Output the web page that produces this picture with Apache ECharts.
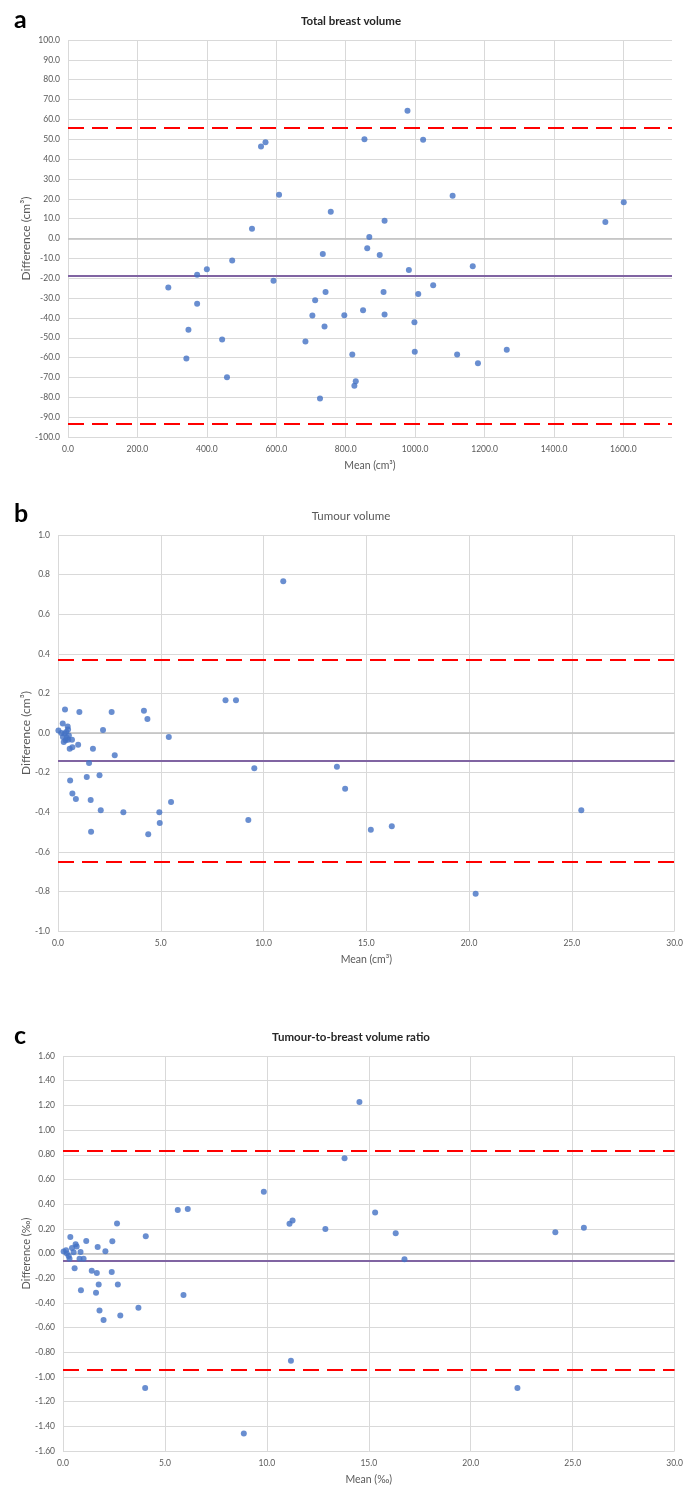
<!DOCTYPE html>
<html><head><meta charset="utf-8">
<script src="https://cdn.jsdelivr.net/npm/echarts@6/dist/echarts.min.js"></script>
<style>html,body{margin:0;padding:0;background:#fff}#c{width:686px;height:1486px}</style>
</head><body><div id="c"></div>
<script>
// Panel a: Total breast volume
const meansA = [289, 341, 347, 372, 372, 400, 444, 458, 473, 530, 556, 569, 592, 608, 684, 704, 712, 726, 734, 739, 742, 757, 796, 819, 825, 829, 850, 854, 862, 868, 898, 909, 912, 912, 978, 982, 998, 999, 1009, 1023, 1052, 1108, 1121, 1166, 1181, 1264, 1548, 1601];
const diffsA = [-24.7, -60.5, -46.0, -18.2, -32.9, -15.5, -50.9, -69.9, -11.1, 4.9, 46.3, 48.5, -21.3, 22.1, -51.9, -38.8, -31.1, -80.6, -7.8, -44.3, -27.0, 13.5, -38.7, -58.5, -74.2, -71.9, -36.2, 50.0, -4.9, 0.7, -8.3, -26.9, 9.0, -38.3, 64.4, -15.9, -42.2, -57.0, -28.0, 49.8, -23.5, 21.5, -58.5, -14.0, -62.9, -56.0, 8.3, 18.2];
const limitsA = [56.0, -18.8, -93.4]; // upper LoA, mean, lower LoA

// Panel b: Tumour volume
const meansB = [0.02, 0.16, 0.23, 0.24, 0.28, 0.32, 0.34, 0.37, 0.40, 0.43, 0.47, 0.49, 0.50, 0.53, 0.57, 0.59, 0.68, 0.70, 0.70, 0.87, 0.98, 1.04, 1.40, 1.51, 1.59, 1.61, 1.70, 2.02, 2.08, 2.19, 2.61, 2.76, 3.18, 4.18, 4.35, 4.39, 4.93, 4.95, 5.39, 5.50, 8.15, 8.66, 9.26, 9.55, 10.96, 13.57, 13.97, 15.22, 16.24, 20.32, 25.46];
const diffsB = [0.013, 0.000, 0.048, -0.020, -0.045, -0.003, 0.119, -0.037, 0.005, -0.024, 0.033, 0.018, -0.034, -0.012, -0.080, -0.240, -0.034, -0.072, -0.306, -0.333, -0.059, 0.106, -0.222, -0.151, -0.338, -0.499, -0.079, -0.213, -0.390, 0.015, 0.106, -0.113, -0.400, 0.113, 0.071, -0.511, -0.400, -0.455, -0.020, -0.348, 0.165, 0.165, -0.439, -0.178, 0.766, -0.170, -0.281, -0.489, -0.471, -0.812, -0.390];
const limitsB = [0.370, -0.137, -0.645];

// Panel c: Tumour-to-breast volume ratio
const meansC = [0.03, 0.15, 0.19, 0.28, 0.32, 0.36, 0.44, 0.52, 0.57, 0.62, 0.67, 0.81, 0.86, 0.88, 1.01, 1.14, 1.41, 1.62, 1.66, 1.70, 1.75, 1.79, 1.99, 2.08, 2.39, 2.42, 2.65, 2.69, 2.81, 3.70, 4.03, 4.06, 5.63, 5.91, 6.12, 8.87, 9.85, 11.11, 11.18, 11.26, 12.87, 13.81, 14.54, 15.31, 16.32, 16.75, 22.29, 24.15, 25.55];
const diffsC = [0.016, 0.027, 0.000, -0.021, -0.043, 0.134, 0.045, 0.011, -0.120, 0.075, 0.056, -0.043, 0.013, -0.297, -0.043, 0.102, -0.139, -0.318, -0.158, 0.053, -0.251, -0.462, -0.539, 0.019, -0.150, 0.099, 0.243, -0.251, -0.502, -0.439, -1.089, 0.139, 0.353, -0.337, 0.361, -1.459, 0.501, 0.241, -0.869, 0.268, 0.198, 0.772, 1.227, 0.332, 0.164, -0.046, -1.089, 0.172, 0.209];
const limitsC = [0.826, -0.055, -0.936];

const panelLetters = ['a', 'b', 'c'];
const panelTitles = ['Total breast volume', 'Tumour volume', 'Tumour-to-breast volume ratio'];
const xNames = ['Mean (cm³)', 'Mean (cm³)', 'Mean (‰)'];
const yNames = ['Difference (cm³)', 'Difference (cm³)', 'Difference (‰)'];

const FONT = 'Lato, "Liberation Sans", sans-serif';
const grids = [
  {left: 68, top: 40, width: 604, height: 397},
  {left: 58, top: 535, width: 618, height: 396},
  {left: 63, top: 1056, width: 613, height: 397}
];
const yNameGaps = [36, 26, 31];
const yNameSizes = [12, 12, 11];
const xCfg = [
  {min: 0, max: 1740, interval: 200, dec: 1},
  {min: 0, max: 30, interval: 5, dec: 1},
  {min: 0, max: 30, interval: 5, dec: 1}
];
const yCfg = [
  {min: -100, max: 100, interval: 10, dec: 1},
  {min: -1, max: 1, interval: 0.2, dec: 1},
  {min: -1.6, max: 1.6, interval: 0.2, dec: 2}
];
const allMeans = [meansA, meansB, meansC];
const allDiffs = [diffsA, diffsB, diffsC];
const allLimits = [limitsA, limitsB, limitsC];

const gridColor = '#d9d9d9';
const labelColor = '#595959';

const xAxes = xCfg.map((c, i) => ({
  type: 'value', gridIndex: i, min: c.min, max: c.max, interval: c.interval,
  name: xNames[i], nameLocation: 'middle', nameGap: 23, nameMoveOverlap: false,
  nameTextStyle: {fontFamily: FONT, fontSize: 10.5, color: labelColor},
  axisLine: {show: false}, axisTick: {show: false},
  axisLabel: {fontFamily: FONT, fontSize: 8.5, color: labelColor, margin: 8, showMaxLabel: i !== 0,
    formatter: v => (Math.abs(v % c.interval) < 1e-9 || Math.abs(Math.abs(v % c.interval) - c.interval) < 1e-9) ? v.toFixed(c.dec) : ''},
  splitLine: {show: true, showMaxLine: i !== 0, lineStyle: {color: gridColor, width: 1}}
}));
const yAxes = yCfg.map((c, i) => ({
  type: 'value', gridIndex: i, min: c.min, max: c.max, interval: c.interval,
  name: yNames[i], nameLocation: 'middle', nameGap: yNameGaps[i], nameRotate: 90, nameMoveOverlap: false,
  nameTextStyle: {fontFamily: FONT, fontSize: yNameSizes[i], color: labelColor},
  axisLine: {show: false}, axisTick: {show: false},
  axisLabel: {fontFamily: FONT, fontSize: 8.5, color: labelColor, margin: 8,
    formatter: v => v.toFixed(c.dec)},
  splitLine: {show: true, lineStyle: {color: gridColor, width: 1}}
}));

const series = allMeans.map((m, i) => {
  const lim = allLimits[i];
  return {
    type: 'scatter', xAxisIndex: i, yAxisIndex: i,
    data: m.map((x, k) => [x, allDiffs[i][k]]),
    symbol: 'circle', symbolSize: 6,
    itemStyle: {color: '#4472c4'},
    z: 3,
    markLine: {
      silent: true, symbol: 'none', label: {show: false}, animation: false, z: 2,
      data: [
        {yAxis: 0, lineStyle: {color: '#bfbfbf', width: 1.5, type: 'solid'}},
        {yAxis: lim[1], lineStyle: {color: '#8064a2', width: 2.2, type: 'solid'}},
        {yAxis: lim[0], lineStyle: {color: '#ff0000', width: 2.2, type: [16, 8]}},
        {yAxis: lim[2], lineStyle: {color: '#ff0000', width: 2.2, type: [16, 8]}}
      ]
    }
  };
});

const letterY = [20, 514, 1036];
const titleY = [21, 516, 1037];
const titleStyles = [
  {weight: 'bold', color: '#262626'},
  {weight: 'normal', color: '#595959'},
  {weight: 'bold', color: '#262626'}
];
const graphic = [];
panelLetters.forEach((L, i) => {
  graphic.push({type: 'text', x: 14, y: letterY[i], style: {text: L, font: 'bold 25px ' + FONT, fill: '#000', align: 'left', verticalAlign: 'middle'}});
  graphic.push({type: 'text', x: 351, y: titleY[i], style: {text: panelTitles[i], font: titleStyles[i].weight + ' 11.5px ' + FONT, fill: titleStyles[i].color, align: 'center', verticalAlign: 'middle'}});
});

const chart = echarts.init(document.getElementById('c'), null, {renderer: 'canvas'});
chart.setOption({
  animation: false,
  backgroundColor: '#fff',
  grid: grids,
  xAxis: xAxes,
  yAxis: yAxes,
  series: series,
  graphic: graphic
});
</script></body></html>
